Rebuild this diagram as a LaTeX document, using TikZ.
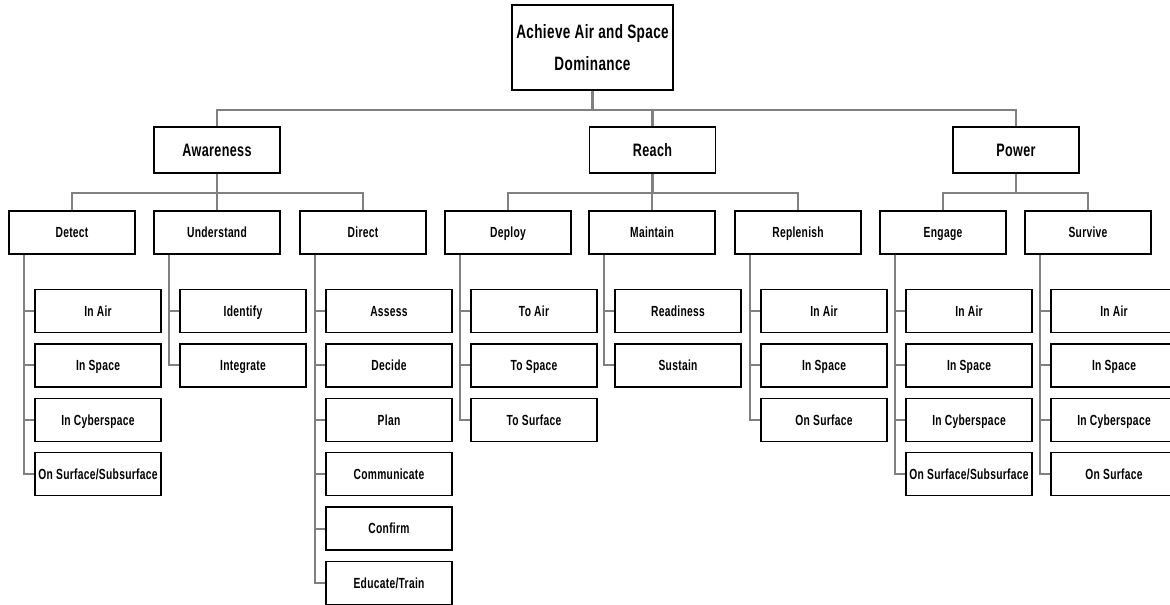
\documentclass[tikz,border=0pt]{standalone}
\usepackage{fontspec}
\setmainfont{Liberation Sans}[FakeStretch=0.7,LetterSpace=2]
\usetikzlibrary{calc}
\tikzset{
  box/.style={draw=black, line width=1pt, fill=white, inner sep=0pt, align=center},
  rootbox/.style={box, minimum width=120.75pt, minimum height=63.75pt, font=\bfseries\fontsize{14.5}{24}\selectfont},
  topbox/.style={box, minimum width=94.5pt, minimum height=34.5pt, text height=9.7pt, text depth=0pt, font=\bfseries\fontsize{13.5}{16}\selectfont},
  midbox/.style={box, minimum width=94.5pt, minimum height=32.25pt, text height=8pt, text depth=0pt, font=\bfseries\fontsize{11}{13}\selectfont},
  kidbox/.style={box, minimum width=94.5pt, minimum height=32.25pt, text height=8pt, text depth=0pt, font=\bfseries\fontsize{11}{13}\selectfont},
  conn/.style={draw=gray, line width=1.6pt}
}
\newcommand\mkkid[5]{%
  \node[kidbox] (#1) at ({#3+89},{311+54.4*#4}) {#5};
  \draw[conn] ($(#2.south west)+(16,0)$) |- (#1.west);
}
\begin{document}
\begin{tikzpicture}[x=0.75pt,y=-0.75pt]
\useasboundingbox (0,0) rectangle (1170,605);
\clip (0,0) rectangle (1170,605);
% root
\node[rootbox] (root) at (592.5,47.5) {Achieve Air and Space\\Dominance};
% level 1
\node[topbox] (aw) at (217,150) {Awareness};
\node[topbox] (re) at (652.5,150) {Reach};
\node[topbox] (po) at (1016,150) {Power};
\foreach \n in {aw,re,po}{\draw[conn] (root.south) -- ++(0,19) -| (\n.north);}
% level 2
\node[midbox] (det) at (72,232.5) {Detect};
\node[midbox] (und) at (217,232.5) {Understand};
\node[midbox] (dir) at (363,232.5) {Direct};
\node[midbox] (dep) at (508,232.5) {Deploy};
\node[midbox] (mai) at (652,232.5) {Maintain};
\node[midbox] (rep) at (798,232.5) {Replenish};
\node[midbox] (eng) at (943,232.5) {Engage};
\node[midbox] (sur) at (1088,232.5) {Survive};
\foreach \n in {det,und,dir}{\draw[conn] (aw.south) -- ++(0,19) -| (\n.north);}
\foreach \n in {dep,mai,rep}{\draw[conn] (re.south) -- ++(0,19) -| (\n.north);}
\foreach \n in {eng,sur}{\draw[conn] (po.south) -- ++(0,19) -| (\n.north);}
% level 3
\mkkid{det1}{det}{9}{0}{In Air}
\mkkid{det2}{det}{9}{1}{In Space}
\mkkid{det3}{det}{9}{2}{In Cyberspace}
\mkkid{det4}{det}{9}{3}{On Surface/Subsurface}
\mkkid{und1}{und}{154}{0}{Identify}
\mkkid{und2}{und}{154}{1}{Integrate}
\mkkid{dir1}{dir}{300}{0}{Assess}
\mkkid{dir2}{dir}{300}{1}{Decide}
\mkkid{dir3}{dir}{300}{2}{Plan}
\mkkid{dir4}{dir}{300}{3}{Communicate}
\mkkid{dir5}{dir}{300}{4}{Confirm}
\mkkid{dir6}{dir}{300}{5}{Educate/Train}
\mkkid{dep1}{dep}{445}{0}{To Air}
\mkkid{dep2}{dep}{445}{1}{To Space}
\mkkid{dep3}{dep}{445}{2}{To Surface}
\mkkid{mai1}{mai}{589}{0}{Readiness}
\mkkid{mai2}{mai}{589}{1}{Sustain}
\mkkid{rep1}{rep}{735}{0}{In Air}
\mkkid{rep2}{rep}{735}{1}{In Space}
\mkkid{rep3}{rep}{735}{2}{On Surface}
\mkkid{eng1}{eng}{880}{0}{In Air}
\mkkid{eng2}{eng}{880}{1}{In Space}
\mkkid{eng3}{eng}{880}{2}{In Cyberspace}
\mkkid{eng4}{eng}{880}{3}{On Surface/Subsurface}
\mkkid{sur1}{sur}{1025}{0}{In Air}
\mkkid{sur2}{sur}{1025}{1}{In Space}
\mkkid{sur3}{sur}{1025}{2}{In Cyberspace}
\mkkid{sur4}{sur}{1025}{3}{On Surface}
\end{tikzpicture}
\end{document}
